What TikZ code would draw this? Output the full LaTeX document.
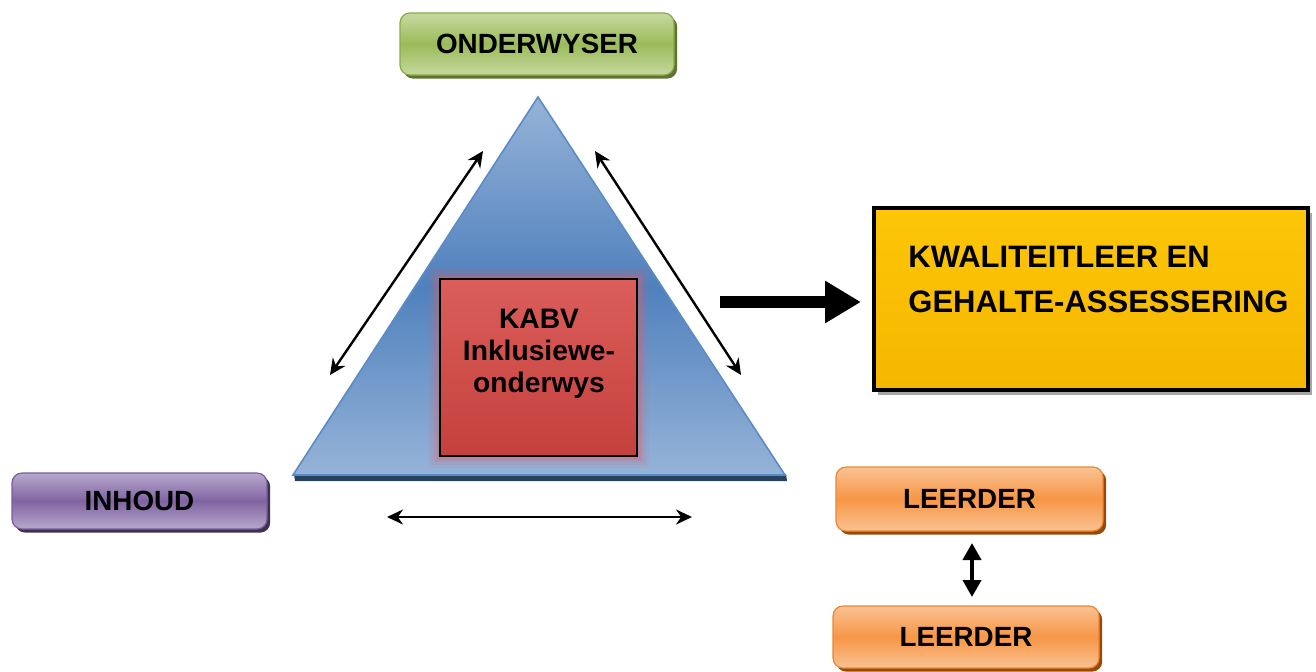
\documentclass[tikz,border=0pt]{standalone}
\usepackage{fontspec}
\setmainfont{Liberation Sans}
\usetikzlibrary{arrows.meta,shadows}
\definecolor{gA}{HTML}{C6D9A0}
\definecolor{gB}{HTML}{9BBB59}
\definecolor{gS}{HTML}{5E7530}
\definecolor{gD}{HTML}{8AAA4A}
\definecolor{pA}{HTML}{B8A8CC}
\definecolor{pB}{HTML}{8064A2}
\definecolor{pS}{HTML}{3F3151}
\definecolor{pD}{HTML}{7A5E9C}
\definecolor{oA}{HTML}{FAC293}
\definecolor{oB}{HTML}{F79646}
\definecolor{oS}{HTML}{984807}
\definecolor{oD}{HTML}{E8873A}
\definecolor{tA}{HTML}{96B3D8}
\definecolor{tB}{HTML}{4F81BD}
\definecolor{tE}{HTML}{5B8BC6}
\definecolor{tN}{HTML}{27415F}
\definecolor{rA}{HTML}{DB5E5A}
\definecolor{rB}{HTML}{C4403D}
\definecolor{rG}{HTML}{E0606A}
\definecolor{yA}{HTML}{FDC607}
\definecolor{yB}{HTML}{F5B700}
\tikzset{
  lblbox/.style n args={3}{rounded corners=5pt, draw=#3, line width=0.6pt,
    top color=#1, bottom color=#1, middle color=#2,
    font=\fontsize{13.9}{16}\selectfont\bfseries, inner sep=0pt},
  thinarrow/.style={line width=1.2pt, {Stealth[length=8pt,width=7.5pt]}-{Stealth[length=8pt,width=7.5pt]}},
}
\begin{document}
\begin{tikzpicture}[x=0.5pt,y=-0.5pt]
\useasboundingbox (0,0) rectangle (1316,671);

% triangle
\coordinate (apex) at (538,97);
\coordinate (bl) at (293,475);
\coordinate (br) at (785,475);
\fill[tN] (294,474) -- (786,474) -- (787,481) -- (295,481) -- cycle;
\shadedraw[top color=tA, bottom color=tA, middle color=tB, draw=tE, line width=0.8pt]
  (apex) -- (br) -- (bl) -- cycle;

% red box with glow
\foreach \w/\o in {12/0.07, 9/0.1, 6/0.16, 3.5/0.25}
  \draw[line width=\w pt, draw=rG, opacity=\o] (440,279) rectangle (637,456);
\node[draw=black, line width=1.3pt, top color=rA, bottom color=rB,
      minimum width=98.5pt, minimum height=88.5pt, inner sep=0pt] (kabvbox) at (538.5,367.5) {};
\node[anchor=north, align=center, inner sep=0pt,
      font=\fontsize{14.1}{16}\selectfont\bfseries] (kabv) at (539,309)
  {KABV\\Inklusiewe-\\onderwys};

% boxes
\node[lblbox={gA}{gB}{gD}, drop shadow={shadow xshift=1.6pt, shadow yshift=-1.8pt, fill=gS, opacity=1},
      minimum width=137pt, minimum height=31pt] (onderwyser) at (537,44) {ONDERWYSER};
\node[lblbox={pA}{pB}{pD}, drop shadow={shadow xshift=1.6pt, shadow yshift=-1.8pt, fill=pS, opacity=1},
      minimum width=127.5pt, minimum height=28pt] (inhoud) at (139.5,501) {INHOUD};
\node[lblbox={oA}{oB}{oD}, drop shadow={shadow xshift=1.6pt, shadow yshift=-1.8pt, fill=oS, opacity=1},
      minimum width=133.5pt, minimum height=32pt] (leerder1) at (969.5,499) {LEERDER};
\node[lblbox={oA}{oB}{oD}, drop shadow={shadow xshift=1.6pt, shadow yshift=-1.8pt, fill=oS, opacity=1},
      minimum width=133pt, minimum height=31pt] (leerder2) at (966,637) {LEERDER};

% yellow box
\node[draw=black, line width=1.8pt, top color=yA, bottom color=yB,
      drop shadow={shadow xshift=2pt, shadow yshift=-2.6pt, fill=black, opacity=0.35},
      minimum width=217pt, minimum height=91pt, inner sep=0pt] (kwaliteit) at (1091,299) {};
\node[anchor=base west, inner sep=0pt, font=\fontsize{15.5}{18}\selectfont\bfseries]
  (kw1) at (908,267) {KWALITEITLEER EN};
\node[anchor=base west, inner sep=0pt, font=\fontsize{15.5}{18}\selectfont\bfseries]
  (kw2) at (908,312) {GEHALTE-ASSESSERING};

% arrows
\coordinate (la1) at (330,375); \coordinate (la2) at (483,151);
\coordinate (ra1) at (595,151); \coordinate (ra2) at (741,375);
\coordinate (ba1) at (387,517); \coordinate (ba2) at (692,517);
\coordinate (ta1) at (720,302); \coordinate (ta2) at (861,302);
\coordinate (va1) at (972,543); \coordinate (va2) at (972,597);
\draw[thinarrow] (la1) -- (la2);
\draw[thinarrow] (ra1) -- (ra2);
\draw[thinarrow] (ba1) -- (ba2);
\draw[line width=6pt, -{Triangle[length=18pt,width=20pt]}] (ta1) -- (ta2);
\draw[line width=2pt, {Triangle[length=8.5pt,width=9pt]}-{Triangle[length=8.5pt,width=9pt]}] (va1) -- (va2);
\end{tikzpicture}
\end{document}
